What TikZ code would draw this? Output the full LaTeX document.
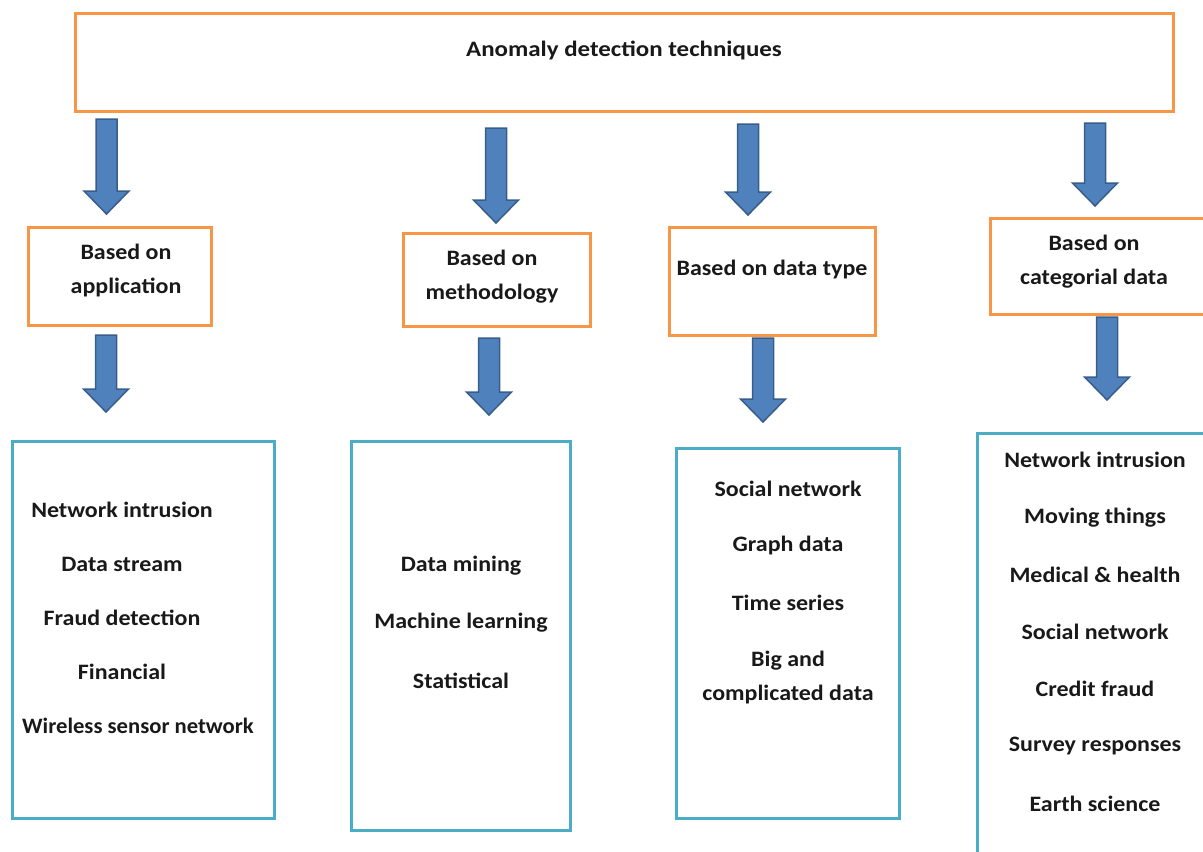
\documentclass[tikz,border=0pt]{standalone}
\usepackage{fontspec}
\setmainfont{Carlito}
\definecolor{boxorange}{HTML}{F79646}
\definecolor{boxblue}{HTML}{4BACC6}
\definecolor{arrfill}{HTML}{4F81BD}
\definecolor{arredge}{HTML}{385D8A}
\newcommand\bArrow[4]{% name, cx, top, bottom
  \draw[blockarrow] (#2-10.5,#3) -- (#2+10.5,#3) -- (#2+10.5,#4-23) -- (#2+22.5,#4-23)
    -- (#2,#4) -- (#2-22.5,#4-23) -- (#2-10.5,#4-23) -- cycle;
  \coordinate (#1) at (#2,#4);}
\tikzset{
  obox/.style={draw=boxorange, line width=3pt, fill=white, inner sep=0pt},
  bbox/.style={draw=boxblue, line width=3pt, fill=white, inner sep=0pt},
  lbl/.style={font=\fontsize{22}{34}\selectfont\bfseries, text=black!90, inner sep=0pt, align=center, xscale=1.09},
  blockarrow/.style={fill=arrfill, draw=arredge, line width=1.5pt, line join=miter},
}
\begin{document}
\begin{tikzpicture}[x=1pt,y=-1pt]
\useasboundingbox (0,0) rectangle (1203,852);
\clip (0,0) rectangle (1203,852);
% top box
\node[obox, minimum width=1098, minimum height=98] (top) at (624,62) {};
\node[lbl, xscale=1.04] (toplbl) at (624,50) {Anomaly detection techniques};
% category boxes
\node[obox, minimum width=183, minimum height=98] (c1) at (119.5,276) {};
\node[lbl] (c1l) at (126,271) {Based on\\application};
\node[obox, minimum width=187, minimum height=93] (c2) at (496.5,279.5) {};
\node[lbl] (c2l) at (492,277) {Based on\\methodology};
\node[obox, minimum width=206, minimum height=108] (c3) at (772,281) {};
\node[lbl] (c3l) at (772,270) {Based on data type};
\node[obox, minimum width=226, minimum height=96] (c4) at (1103,266) {};
\node[lbl] (c4l) at (1094,262) {Based on\\categorial data};
% blue boxes
\node[bbox, minimum width=262, minimum height=377] (b1) at (143,629.5) {};
\node[bbox, minimum width=219, minimum height=389] (b2) at (460.5,635.5) {};
\node[bbox, minimum width=223, minimum height=370] (b3) at (787.5,633) {};
\node[bbox, minimum width=240, minimum height=440] (b4) at (1097,653) {};
% texts box 1
\node[lbl] (t11) at (122,510) {Network intrusion};
\node[lbl] (t12) at (122,564) {Data stream};
\node[lbl] (t13) at (122,618) {Fraud detection};
\node[lbl] (t14) at (122,672) {Financial};
\node[lbl, xscale=0.945] (t15) at (138,726) {Wireless sensor network};
% texts box 2
\node[lbl] (t21) at (461,566) {Data mining};
\node[lbl] (t22) at (461,623) {Machine learning};
\node[lbl] (t23) at (461,681) {Statistical};
% texts box 3
\node[lbl] (t31) at (788,489) {Social network};
\node[lbl] (t32) at (788,546) {Graph data};
\node[lbl] (t33) at (788,603) {Time series};
\node[lbl] (t34) at (788,678) {Big and\\complicated data};
% texts box 4
\node[lbl] (t41) at (1095,460) {Network intrusion};
\node[lbl] (t42) at (1095,518) {Moving things};
\node[lbl] (t43) at (1095,575) {Medical \& health};
\node[lbl] (t44) at (1095,632) {Social network};
\node[lbl] (t45) at (1095,689) {Credit fraud};
\node[lbl] (t46) at (1095,746) {Survey responses};
\node[lbl] (t47) at (1095,804) {Earth science};
% arrows
\bArrow{u1}{106.5}{119}{214}
\bArrow{u2}{496}{128}{223}
\bArrow{u3}{748}{124}{215}
\bArrow{u4}{1095}{123}{206}
\bArrow{l1}{106}{335}{412}
\bArrow{l2}{489}{338}{415}
\bArrow{l3}{763}{338}{422}
\bArrow{l4}{1107}{317}{400}
\end{tikzpicture}
\end{document}
